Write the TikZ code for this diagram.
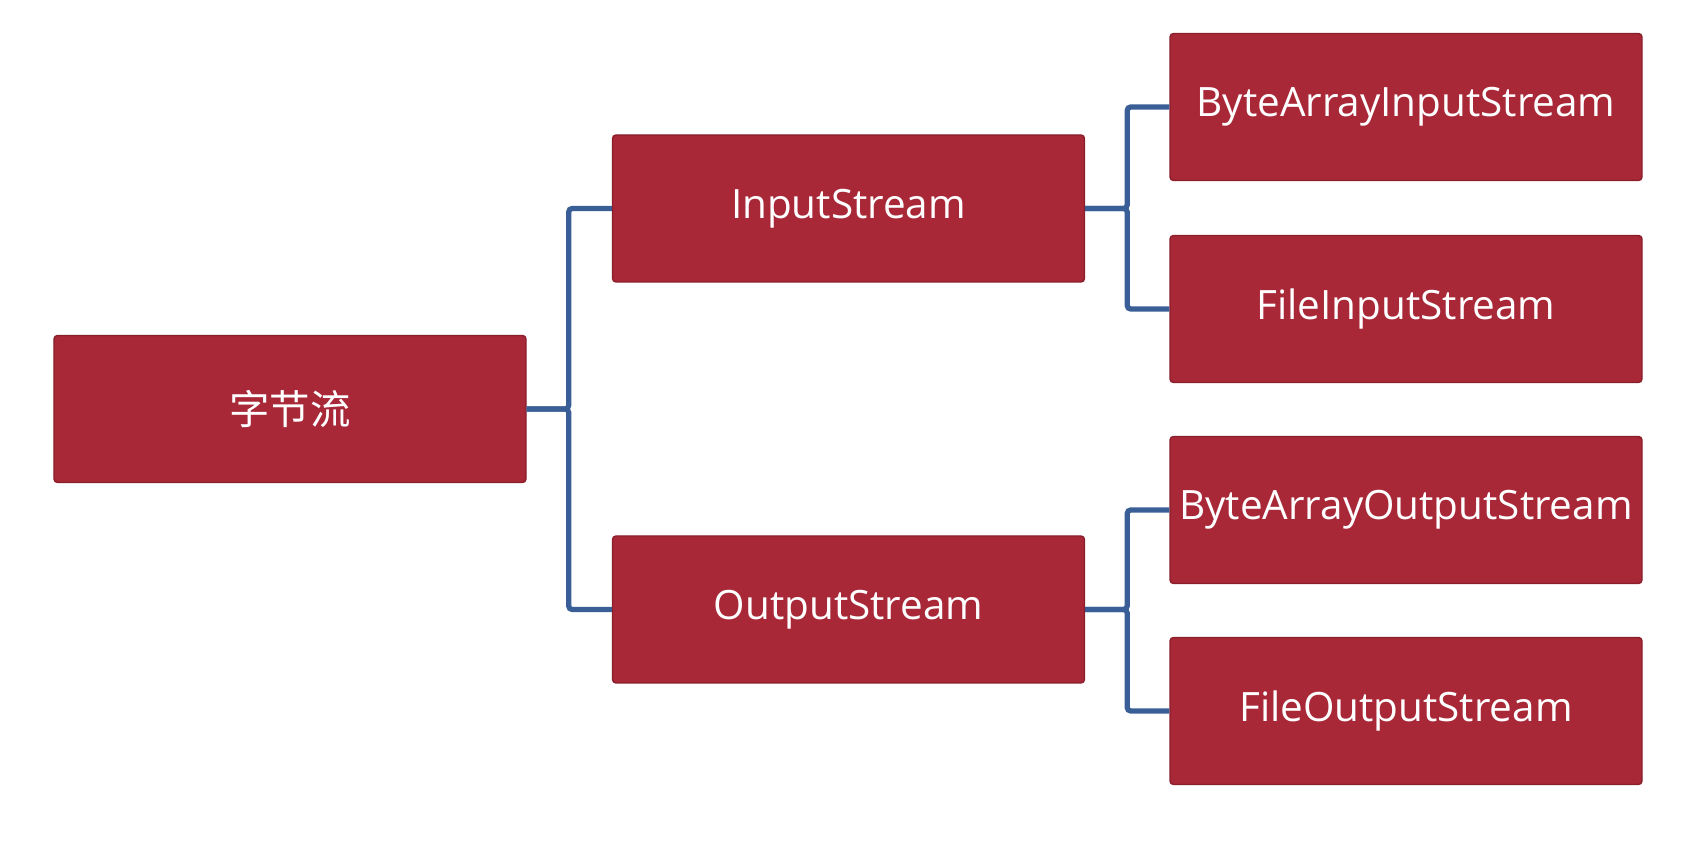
\documentclass[tikz,border=0pt]{standalone}
\usepackage{fontspec}
\setmainfont{Open Sans}
\newfontfamily\cjk{Noto Sans CJK SC}
\usepackage{tikz}
\usetikzlibrary{positioning}
\definecolor{boxred}{HTML}{A82838}
\definecolor{boxedge}{HTML}{8A1E2B}
\definecolor{linkblue}{HTML}{3A5F96}
\tikzset{
  streambox/.style = {draw = boxedge, fill = boxred, text = white, rounded corners = 1pt,
    minimum width = 4.72cm, minimum height = 1.47cm, inner sep = 0pt,
    font = \fontsize{11.5}{13}\selectfont},
  link/.style = {draw = linkblue, line width = 1.5pt, rounded corners = 1pt}
}

\begin{document}
\begin{tikzpicture}
\useasboundingbox (0,0) rectangle (16.94,-8.5);
% tree
\node[streambox] (root) at (2.9,-4.09) {\cjk 字节流};
\node[streambox] (in) at (8.485,-2.085) {InputStream};
\node[streambox] (out) at (8.485,-6.095) {OutputStream};
\node[streambox] (bain) at (14.06,-1.07) {ByteArrayInputStream};
\node[streambox] (filein) at (14.06,-3.09) {FileInputStream};
\node[streambox] (baout) at (14.06,-5.10) {ByteArrayOutputStream};
\node[streambox] (fileout) at (14.06,-7.11) {FileOutputStream};
\draw[link] (root.east) -- ++(.42,0) |- (in.west);
\draw[link] (root.east) -- ++(.42,0) |- (out.west);
\draw[link] (in.east) -- ++(.42,0) |- (bain.west);
\draw[link] (in.east) -- ++(.42,0) |- (filein.west);
\draw[link] (out.east) -- ++(.42,0) |- (baout.west);
\draw[link] (out.east) -- ++(.42,0) |- (fileout.west);
\end{tikzpicture}
\end{document}
